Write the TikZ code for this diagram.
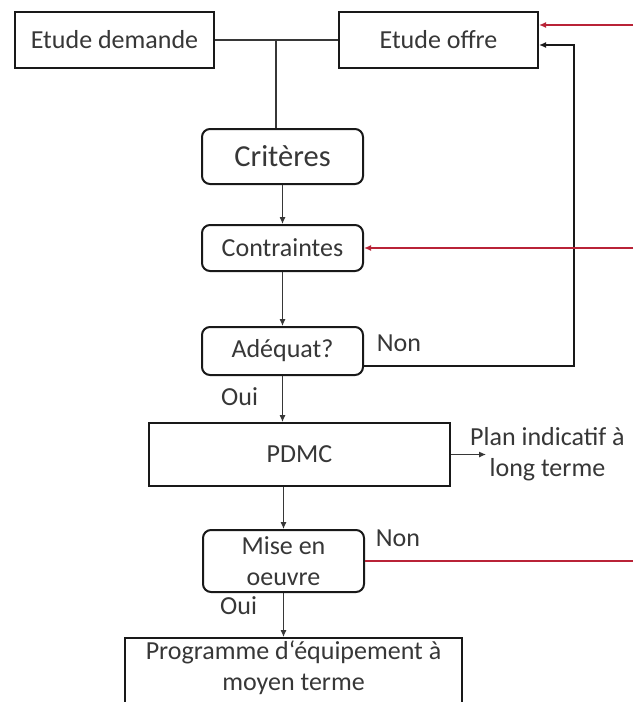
\documentclass[tikz,border=0pt]{standalone}
\usepackage{fontspec}
\setmainfont{Carlito}
\usepackage{tikz}
\usetikzlibrary{positioning, arrows.meta}

\definecolor{linkred}{RGB}{185,35,55}
\definecolor{inkgray}{RGB}{55,55,55}

\tikzset{
  plainbox/.style={draw=black!90, line width=2pt, inner sep=0pt, minimum width=161pt, align=center, text=inkgray},
  roundbox/.style={plainbox, rounded corners=8pt},
  lbl/.style={inner sep=0pt, text=inkgray},
  trunk/.style={draw=inkgray, line width=2pt},
  flow/.style={draw=inkgray, line width=1pt, -{Latex[length=7pt,width=6pt]}},
  loopflow/.style={draw=black!90, line width=1.8pt, -{Latex[length=7pt,width=6pt]}},
  redflow/.style={draw=linkred, line width=1.8pt, -{Latex[length=7pt,width=6pt]}},
  redline/.style={draw=linkred, line width=1.8pt}
}

\begin{document}
\begin{tikzpicture}[x=1pt, y=1pt, font=\fontsize{26}{31}\selectfont]
    \useasboundingbox[fill=white] (0,0) rectangle (633,-702);

    \node[plainbox, minimum width=199pt, minimum height=56pt](dem) at (114.5,-40) {Etude demande};
    \node[plainbox, minimum width=199pt, minimum height=56pt](offre)[right = 123pt of dem] {Etude offre};
    \node[roundbox, minimum height=55pt, font=\fontsize{30.5}{36}\selectfont](crit) at (282.5,-156.5) {Critères};
    \node[roundbox, minimum height=46pt](cont)[below = 39pt of crit] {Contraintes};
    \node[roundbox, minimum height=48pt](adeq)[below = 54pt of cont] {Adéquat?};
    \node[plainbox, minimum width=301pt, minimum height=63pt](pdmc)[below = 46pt of adeq, xshift=17pt] {PDMC};
    \node[roundbox, minimum height=62pt](mise)[below = 42pt of pdmc, xshift=-16pt] {Mise en\\oeuvre};
    \node[plainbox, minimum width=337pt, minimum height=76pt, text depth=20pt](prog)[below = 44pt of mise, xshift=10pt] {Programme d‘équipement à\\moyen terme};
    \node[lbl, align=center](plan)[right = 19pt of pdmc] {Plan indicatif à\\long terme};

    \coordinate (jn) at ([xshift=61pt]dem.east);
    \coordinate (rim) at (633,0);
    \coordinate (outN) at ([yshift=-15pt]adeq.east);
    \coordinate (inN) at ([yshift=-5pt]offre.east);
    \coordinate (inR) at ([yshift=15pt]offre.east);

    \draw[trunk] (dem) -- (offre);
    \draw[trunk] (jn) -- (jn |- crit.north);
    \draw[flow] (crit) -- (cont);
    \draw[flow] (cont) -- (adeq);
    \draw[flow] (adeq.south) -- node[lbl, pos=0.55, left=24pt, yshift=5pt](ouiA){Oui} (adeq.south |- pdmc.north);
    \draw[flow] (mise.north |- pdmc.south) -- (mise.north);
    \draw[flow] (mise.south) -- node[lbl, pos=0.45, left=26pt, yshift=7pt](ouiB){Oui} (mise.south |- prog.north);
    \draw[flow] (pdmc.east) -- ([xshift=16pt]plan.west);
    \draw[loopflow] (outN) node[lbl, above right=13pt and 12pt](nonA){Non} -| ([xshift=35pt]inN) -- (inN);

    \draw[redflow] (rim |- inR) -- (inR);
    \draw[redflow] (rim |- cont.east) -- (cont.east);
    \draw[redline] (mise.east) node[lbl, above right=13pt and 10pt](nonB){Non} -- (mise.east -| rim);
\end{tikzpicture}
\end{document}
